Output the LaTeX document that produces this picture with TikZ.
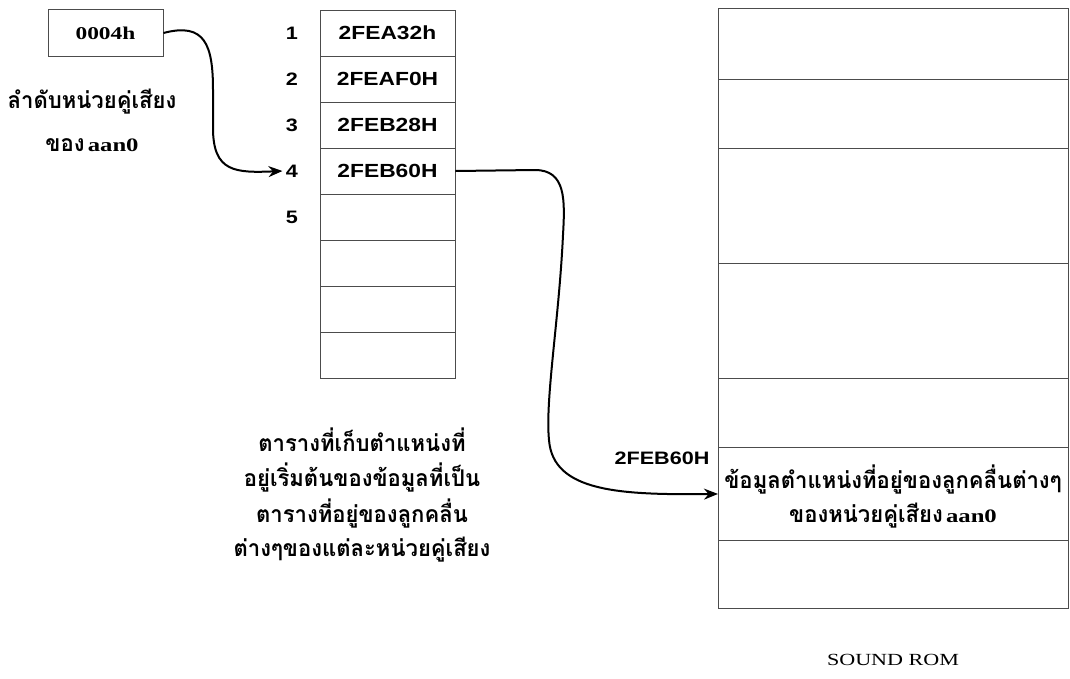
\documentclass[tikz,border=0pt]{standalone}
\usepackage{fontspec}
\usetikzlibrary{arrows.meta}
\setmainfont{Liberation Serif}[FakeStretch=1.3]
\newfontfamily\arialf{Liberation Sans}[FakeStretch=1.2]
\newfontfamily\thaif{Loma}[Script=Thai,FakeStretch=0.96]

\tikzset{
  cell/.style={draw=black!70, line width=0.9pt, inner sep=0pt, minimum width=135pt, minimum height=46pt,
    font=\arialf\bfseries\fontsize{19}{22}\selectfont},
  romcell/.style={draw=black!70, line width=0.9pt, inner sep=0pt, minimum width=350pt, anchor=north west},
  idx/.style={font=\arialf\bfseries\fontsize{18}{22}\selectfont},
  thai/.style={font=\thaif\bfseries\fontsize{23}{27}\selectfont, inner sep=0pt},
  latin/.style={font=\bfseries\fontsize{18}{22}\selectfont},
  link/.style={line width=2pt, -{Stealth[length=14pt,width=11pt]}}
}

\begin{document}
\begin{tikzpicture}[x=1pt,y=-1pt]
\useasboundingbox (0,0) rectangle (1070,678);

% index box and its caption
\node[draw=black!70, line width=0.9pt, minimum width=115pt, minimum height=47pt, inner sep=0pt, latin] (b0) at (105.5,33) {0004h};
\node[thai] (cap1) at (92,102) {ลำดับหน่วยคู่เสียง};
\node[inner sep=0pt] (cap2) at (92,145) {{\thaif\bfseries\fontsize{23}{27}\selectfont ของ} {\bfseries\fontsize{19}{22}\selectfont aan0}};

% address table
\node[cell] (r1) at (387.5,33) {2FEA32h};
\node[cell] (r2) at (387.5,79) {2FEAF0H};
\node[cell] (r3) at (387.5,125) {2FEB28H};
\node[cell] (r4) at (387.5,171) {2FEB60H};
\node[cell] (r5) at (387.5,217) {};
\node[cell] (r6) at (387.5,263) {};
\node[cell] (r7) at (387.5,309) {};
\node[cell] (r8) at (387.5,355) {};

\node[idx] (n1) at (292,33) {1};
\node[idx] (n2) at (292,79) {2};
\node[idx] (n3) at (292,125) {3};
\node[idx] (n4) at (292,171) {4};
\node[idx] (n5) at (292,217) {5};

% table description
\node[thai] (d1) at (362,440) {ตารางที่เก็บตำแหน่งที่};
\node[thai] (d2) at (362,477) {อยู่เริ่มต้นของข้อมูลที่เป็น};
\node[thai] (d3) at (362,513) {ตารางที่อยู่ของลูกคลื่น};
\node[thai] (d4) at (362,550) {ต่างๆของแต่ละหน่วยคู่เสียง};

% sound ROM
\node[romcell, minimum height=71pt] (s1) at (718,8) {};
\node[romcell, minimum height=69pt] (s2) at (718,79) {};
\node[romcell, minimum height=115pt] (s3) at (718,148) {};
\node[romcell, minimum height=115pt] (s4) at (718,263) {};
\node[romcell, minimum height=69pt] (s5) at (718,378) {};
\node[romcell, minimum height=93pt] (s6) at (718,447) {};
\node[romcell, minimum height=68pt] (s7) at (718,540) {};

\node[thai] (t1) at (893,479) {ข้อมูลตำแหน่งที่อยู่ของลูกคลื่นต่างๆ};
\node[inner sep=0pt] (t2) at (893,516) {{\thaif\bfseries\fontsize{23}{27}\selectfont ของหน่วยคู่เสียง} {\bfseries\fontsize{19}{22}\selectfont aan0}};
\node[idx] (addr) at (662,458) {2FEB60H};
\node[font=\fontsize{17}{20}\selectfont] (rom) at (893,660) {SOUND ROM};

% connectors
\draw[link] (b0.east) .. controls (205,22) and (213,45) .. (213,90)
  -- (213,128) .. controls (213,172) and (235,173) .. (n4.west);
\draw[link] (r4.east) -- (535,170) .. controls (566,170) and (565,200) .. (563,235)
  .. controls (559,320) and (545,400) .. (549,440)
  .. controls (553,492) and (620,495) .. (s6.west);
\end{tikzpicture}
\end{document}
